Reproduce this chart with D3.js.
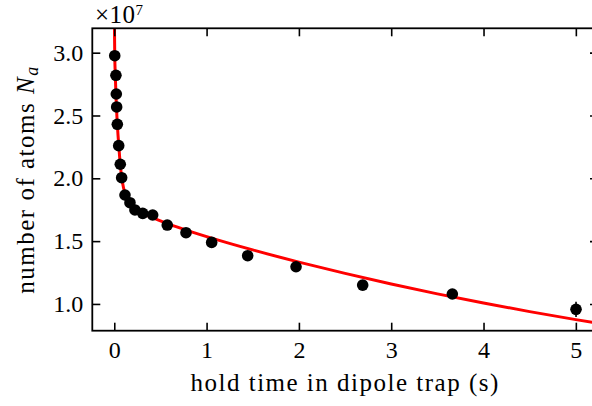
<!DOCTYPE html>
<html>
<head>
<meta charset="utf-8">
<script src="https://cdn.jsdelivr.net/npm/d3@7"></script>
<style>
  body { margin: 0; background: #fff; }
  svg { display: block; }
  .tick text { font-family: "Liberation Serif", serif; font-size: 24px; fill: #000; }
  .tick line { stroke: #000; stroke-width: 1.6; }
  .label { font-family: "Liberation Serif", serif; font-size: 25px; letter-spacing: 1.5px; fill: #000; }
</style>
</head>
<body>
<div id="container"></div>
<script>
/* CONSTANTS AND GLOBALS */
const width = 592,
  height = 406,
  margin = { top: 28.3, bottom: 75.3, left: 92.3, right: -6 },
  radius = 5.8;

/* DATA (atoms in units of 1e7) */
const holdTime = [0.005, 0.018, 0.022, 0.026, 0.033, 0.048, 0.065, 0.08, 0.116, 0.17, 0.224,
  0.308, 0.416, 0.574, 0.777, 1.055, 1.445, 1.969, 2.691, 3.662, 5.002];
const atoms = [2.976, 2.82, 2.671, 2.568, 2.43, 2.26, 2.112, 2.005, 1.867, 1.806, 1.748,
  1.721, 1.708, 1.628, 1.567, 1.49, 1.384, 1.296, 1.15, 1.079, 0.957];
const atomsErr = [0.02, 0.02, 0.02, 0.02, 0.02, 0.02, 0.02, 0.02, 0.02, 0.02, 0.02,
  0.02, 0.02, 0.02, 0.02, 0.02, 0.02, 0.02, 0.03, 0.03, 0.06];

// fit curve
const fitTime = [0, 0.005, 0.012, 0.02, 0.03, 0.04, 0.05, 0.065, 0.08, 0.1, 0.13, 0.17, 0.22,
  0.3, 0.4, 0.5, 0.6, 0.78, 1.1, 1.5, 2.0, 2.5, 3.0, 3.5, 4.0, 4.5, 5.0, 5.24];
const fitAtoms = [3.35, 2.99, 2.8, 2.63, 2.47, 2.35, 2.25, 2.11, 2.01, 1.925, 1.855, 1.8, 1.762,
  1.722, 1.692, 1.662, 1.634, 1.588, 1.514, 1.43, 1.333, 1.243, 1.159, 1.08, 1.007, 0.939, 0.875, 0.846];

const xTicks = [0, 1, 2, 3, 4, 5];
const yTicks = [1.0, 1.5, 2.0, 2.5, 3.0];

/* SCALES */
const xScale = d3.scaleLinear()
  .domain([-0.238, 5.24])
  .range([margin.left, width - margin.right]);

const yScale = d3.scaleLinear()
  .domain([0.787, 3.194])
  .range([height - margin.bottom, margin.top]);

/* SVG */
const svg = d3.select("#container")
  .append("svg")
  .attr("width", width)
  .attr("height", height);

svg.append("clipPath")
  .attr("id", "plotClip")
  .append("rect")
  .attr("x", margin.left)
  .attr("y", margin.top)
  .attr("width", width - margin.right - margin.left)
  .attr("height", height - margin.bottom - margin.top);

const plot = svg.append("g").attr("clip-path", "url(#plotClip)");

// fit line
const lineGen = d3.line()
  .x(d => xScale(d[0]))
  .y(d => yScale(d[1]))
  .curve(d3.curveMonotoneX);

plot.append("path")
  .datum(fitTime.map((t, i) => [t, fitAtoms[i]]))
  .attr("fill", "none")
  .attr("stroke", "#ff0000")
  .attr("stroke-width", 3)
  .attr("d", lineGen);

// error bars + points
const points = holdTime.map((t, i) => ({ t: t, n: atoms[i], e: atomsErr[i] }));

plot.selectAll(".err")
  .data(points)
  .join("line")
  .attr("class", "err")
  .attr("x1", d => xScale(d.t))
  .attr("x2", d => xScale(d.t))
  .attr("y1", d => yScale(d.n - d.e))
  .attr("y2", d => yScale(d.n + d.e))
  .attr("stroke", "#000")
  .attr("stroke-width", 1.6);

plot.selectAll(".dot")
  .data(points)
  .join("circle")
  .attr("class", "dot")
  .attr("cx", d => xScale(d.t))
  .attr("cy", d => yScale(d.n))
  .attr("r", radius)
  .attr("fill", "#000");

/* AXES (ticks pointing inward, on all four sides) */
const tickLen = 8;

svg.append("g")
  .attr("transform", `translate(0, ${height - margin.bottom})`)
  .call(d3.axisBottom(xScale).tickValues(xTicks).tickFormat(d3.format("d"))
    .tickSizeInner(-tickLen).tickSizeOuter(0).tickPadding(10))
  .call(g => g.select(".domain").remove());

svg.append("g")
  .attr("transform", `translate(0, ${margin.top})`)
  .call(d3.axisTop(xScale).tickValues(xTicks).tickFormat("")
    .tickSizeInner(-tickLen).tickSizeOuter(0))
  .call(g => g.select(".domain").remove());

svg.append("g")
  .attr("transform", `translate(${margin.left}, 0)`)
  .call(d3.axisLeft(yScale).tickValues(yTicks).tickFormat(d3.format(".1f"))
    .tickSizeInner(-tickLen).tickSizeOuter(0).tickPadding(9))
  .call(g => g.select(".domain").remove());

svg.append("g")
  .attr("transform", `translate(${width - margin.right}, 0)`)
  .call(d3.axisRight(yScale).tickValues(yTicks).tickFormat("")
    .tickSizeInner(-tickLen).tickSizeOuter(0))
  .call(g => g.select(".domain").remove());

// frame
svg.append("rect")
  .attr("x", margin.left)
  .attr("y", margin.top)
  .attr("width", width - margin.right - margin.left)
  .attr("height", height - margin.bottom - margin.top)
  .attr("fill", "none")
  .attr("stroke", "#000")
  .attr("stroke-width", 1.8);

/* LABELS */
svg.append("text")
  .attr("class", "label")
  .attr("x", (margin.left + width - margin.right) / 2)
  .attr("y", 391)
  .attr("text-anchor", "middle")
  .text("hold time in dipole trap (s)");

const yLabel = svg.append("text")
  .attr("class", "label")
  .attr("transform", `translate(34, ${(margin.top + height - margin.bottom) / 2}) rotate(-90)`)
  .attr("text-anchor", "middle");
yLabel.append("tspan").text("number of atoms ");
yLabel.append("tspan").attr("font-style", "italic").text("N");
yLabel.append("tspan").attr("font-style", "italic").attr("font-size", "18px").attr("dy", 4).text("a");

const offset = svg.append("text")
  .attr("class", "label")
  .attr("x", 95)
  .attr("y", 23)
  .attr("font-size", "23px")
  .style("letter-spacing", "0.5px");
offset.append("tspan").text("×10");
offset.append("tspan").attr("font-size", "15px").attr("dy", -8).text("7");
</script>
</body>
</html>
